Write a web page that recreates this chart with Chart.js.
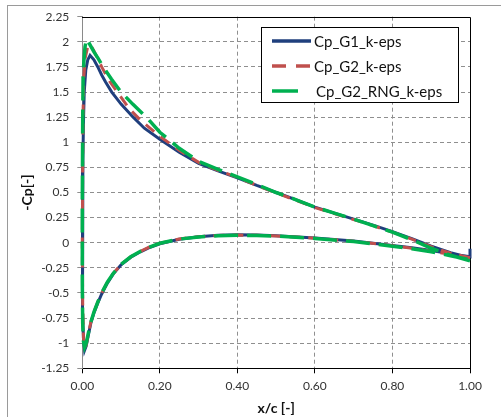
<!DOCTYPE html>
<html><head><meta charset="utf-8">
<script src="https://cdn.jsdelivr.net/npm/chart.js@4"></script>
<style>
html,body{margin:0;padding:0;background:#fff;}
#wrap{position:relative;width:501px;height:417px;overflow:hidden;background:#fff;}
#frame{position:absolute;left:7px;top:5px;width:600px;height:600px;border-left:1px solid #9a9a9a;border-top:1px solid #9a9a9a;}
canvas{position:absolute;left:0;top:0;}
</style></head><body>
<div id="wrap"><div id="frame"></div><canvas id="c" width="501" height="417"></canvas></div>
<script>
const seriesNames = ['Cp_G1_k-eps', 'Cp_G2_k-eps', 'Cp_G2_RNG_k-eps'];

// G1 k-eps: upper surface TE -> LE, then lower surface LE -> TE
const xG1 = [1.0,0.95,0.9,0.85,0.8,0.75,0.7,0.65,0.6,0.55,0.5,0.45,0.4,0.35,0.3,0.25,0.2,0.16,0.13,0.1,0.076,0.06,0.05,0.04,0.03,0.02,0.014,0.009,0.005,0.003,0.0015,0.0005,0.0,0.001,0.003,0.006,
             0.01,0.015,0.022,0.03,0.04,0.05,0.065,0.08,0.1,0.125,0.15,0.175,0.2,0.25,0.3,0.35,0.4,0.45,0.5,0.6,0.7,0.8,0.85,0.9,0.95,1.0,1.0];
const yG1 = [-0.15,-0.10,-0.035,0.04,0.11,0.175,0.235,0.295,0.355,0.43,0.50,0.57,0.645,0.715,0.79,0.90,1.03,1.14,1.255,1.38,1.5,1.6,1.67,1.75,1.82,1.865,1.82,1.72,1.5,1.2,0.8,0.2,-0.3,-0.7,-0.95,-1.07,
             -1.03,-0.93,-0.8,-0.7,-0.6,-0.51,-0.4,-0.31,-0.22,-0.145,-0.09,-0.045,-0.01,0.035,0.06,0.074,0.08,0.077,0.07,0.048,0.018,-0.027,-0.05,-0.077,-0.11,-0.14,-0.06];

// G2 k-eps
const xG2 = [1.0,0.95,0.9,0.85,0.8,0.75,0.7,0.65,0.6,0.55,0.5,0.45,0.4,0.35,0.3,0.25,0.2,0.15,0.12,0.09,0.07,0.05,0.04,0.03,0.02,0.014,0.008,0.004,0.002,0.001,0.0,0.001,0.003,0.006,
             0.01,0.015,0.022,0.03,0.04,0.05,0.065,0.08,0.1,0.125,0.15,0.175,0.2,0.25,0.3,0.35,0.4,0.45,0.5,0.6,0.7,0.8,0.85,0.9,0.95,1.0,1.0];
const yG2 = [-0.15,-0.105,-0.04,0.035,0.105,0.17,0.23,0.29,0.35,0.425,0.495,0.57,0.65,0.72,0.80,0.92,1.06,1.22,1.34,1.5,1.61,1.75,1.83,1.91,1.975,1.95,1.85,1.65,1.3,0.8,0.0,-0.6,-0.95,-1.06,
             -1.02,-0.92,-0.79,-0.69,-0.59,-0.5,-0.39,-0.305,-0.215,-0.14,-0.085,-0.04,-0.005,0.038,0.06,0.072,0.076,0.074,0.068,0.045,0.015,-0.03,-0.055,-0.085,-0.115,-0.15,-0.12];

// G2 RNG k-eps
const xRNG = [1.0,0.95,0.9,0.85,0.8,0.75,0.7,0.65,0.6,0.55,0.5,0.45,0.4,0.35,0.3,0.25,0.2,0.17,0.13,0.1,0.075,0.054,0.04,0.03,0.02,0.011,0.007,0.004,0.002,0.001,0.0,0.0,0.001,0.003,0.006,
              0.01,0.015,0.022,0.03,0.04,0.05,0.065,0.08,0.1,0.125,0.15,0.175,0.2,0.25,0.3,0.35,0.4,0.45,0.5,0.6,0.7,0.8,0.85,0.9,0.95,1.0];
const yRNG = [-0.18,-0.125,-0.055,0.03,0.105,0.17,0.235,0.295,0.355,0.43,0.5,0.58,0.655,0.73,0.81,0.94,1.1,1.23,1.38,1.5,1.63,1.75,1.84,1.9,1.97,2.03,1.95,1.8,1.65,1.2,0.4,-0.4,-0.8,-0.98,-1.04,
              -1.0,-0.91,-0.79,-0.69,-0.59,-0.5,-0.39,-0.305,-0.215,-0.14,-0.085,-0.04,-0.005,0.036,0.058,0.07,0.074,0.072,0.066,0.043,0.012,-0.035,-0.06,-0.09,-0.13,-0.17];

const yTickValues = [-1.25,-1,-0.75,-0.5,-0.25,0,0.25,0.5,0.75,1,1.25,1.5,1.75,2,2.25];
const yTickLabels = ['-1.25','-1','-0.75','-0.5','-0.25','0','0.25','0.5','0.75','1','1.25','1.5','1.75','2','2.25'];
const xTickValues = [0,0.2,0.4,0.6,0.8,1.0];
const xTickLabels = ['0.00','0.20','0.40','0.60','0.80','1.00'];

const FONT = 'Lato';
const toPts = (xs, ys) => xs.map((x, i) => ({x: x, y: ys[i]}));

const styles = [
  {color: '#1f3f7d', dash: [], width: 3},
  {color: '#c0504d', dash: [11, 8], width: 3},
  {color: '#00b050', dash: [24, 9], width: 3.5}
];
const dataSets = [toPts(xG1, yG1), toPts(xG2, yG2), toPts(xRNG, yRNG)];

const gridColor = (edges) => (ctx) => (ctx.tick && edges.includes(ctx.tick.value)) ? 'rgba(0,0,0,0)' : '#8f8f8f';

const framePlugin = {
  id: 'frame',
  beforeDatasetsDraw(chart) {
    const {ctx, chartArea: a} = chart;
    ctx.save();
    ctx.strokeStyle = '#000';
    ctx.lineWidth = 1;
    ctx.beginPath();
    const t = Math.round(a.top) + 0.5, r = Math.round(a.right) + 0.5;
    ctx.moveTo(Math.round(a.left), t);
    ctx.lineTo(r, t);
    ctx.lineTo(r, Math.round(a.bottom) + 1);
    ctx.stroke();
    ctx.restore();
  }
};

const legendPlugin = {
  id: 'boxLegend',
  afterDraw(chart) {
    const ctx = chart.ctx;
    const bx = 261.5, by = 27.5, bw = 197, bh = 75;
    ctx.save();
    ctx.fillStyle = '#fff';
    ctx.fillRect(bx, by, bw, bh);
    ctx.strokeStyle = '#000';
    ctx.lineWidth = 1;
    ctx.strokeRect(bx, by, bw, bh);
    const rows = [41, 66, 91];
    const legDash = [[], [14, 10], [26, 20]];
    const textX = [314, 314, 316];
    chart.data.datasets.forEach((ds, i) => {
      ctx.beginPath();
      ctx.setLineDash(legDash[i]);
      ctx.strokeStyle = ds.borderColor;
      ctx.lineWidth = 3.5;
      ctx.moveTo(272, rows[i]);
      ctx.lineTo(311, rows[i]);
      ctx.stroke();
      ctx.setLineDash([]);
      ctx.fillStyle = '#111';
      ctx.font = '15px ' + FONT;
      ctx.textBaseline = 'middle';
      ctx.textAlign = 'left';
      ctx.fillText(ds.label, textX[i], rows[i] + 1);
    });
    ctx.restore();
  }
};

new Chart(document.getElementById('c'), {
  type: 'scatter',
  data: {
    datasets: seriesNames.map((name, i) => ({
      label: name,
      data: dataSets[i],
      showLine: true,
      borderColor: styles[i].color,
      backgroundColor: styles[i].color,
      borderWidth: styles[i].width,
      borderDash: styles[i].dash,
      pointRadius: 0,
      pointHoverRadius: 0,
      tension: 0,
      clip: false,
      order: 3 - i
    }))
  },
  options: {
    responsive: false,
    animation: false,
    devicePixelRatio: 1,
    layout: {padding: {top: 16.7, right: 31, bottom: 0, left: 0}},
    plugins: {legend: {display: false}, tooltip: {enabled: false}},
    scales: {
      x: {
        type: 'linear', min: 0, max: 1,
        afterBuildTicks: (s) => { s.ticks = xTickValues.map(v => ({value: v})); },
        afterFit: (s) => { s.height = 48.7; },
        ticks: {
          callback: (v, i) => xTickLabels[i],
          font: {family: FONT, size: 12}, color: '#333', padding: 6,
          maxRotation: 0, autoSkip: false
        },
        grid: {color: gridColor([0, 1]), tickColor: '#000', tickLength: 5, lineWidth: 1},
        border: {color: '#000', width: 1, dash: [4, 3]},
        title: {display: true, text: 'x/c [-]', color: '#111',
                font: {family: FONT, size: 14, weight: 'bold'}, padding: {top: 2, bottom: 0}}
      },
      y: {
        type: 'linear', min: -1.25, max: 2.25,
        afterBuildTicks: (s) => { s.ticks = yTickValues.map(v => ({value: v})); },
        afterFit: (s) => { s.width = 82.3; },
        ticks: {
          callback: (v, i) => yTickLabels[i],
          font: {family: FONT, size: 12}, color: '#333', padding: 8, autoSkip: false
        },
        grid: {color: gridColor([-1.25, 2.25]), tickColor: '#8f8f8f', tickLength: 5, lineWidth: 1},
        border: {color: '#8a8a8a', width: 1, dash: [4, 3]},
        title: {display: true, text: '-Cp[-]', color: '#111',
                font: {family: FONT, size: 14, weight: 'bold'}, padding: {top: 19, bottom: 0}}
      }
    }
  },
  plugins: [framePlugin, legendPlugin]
});
</script>
</body></html>
